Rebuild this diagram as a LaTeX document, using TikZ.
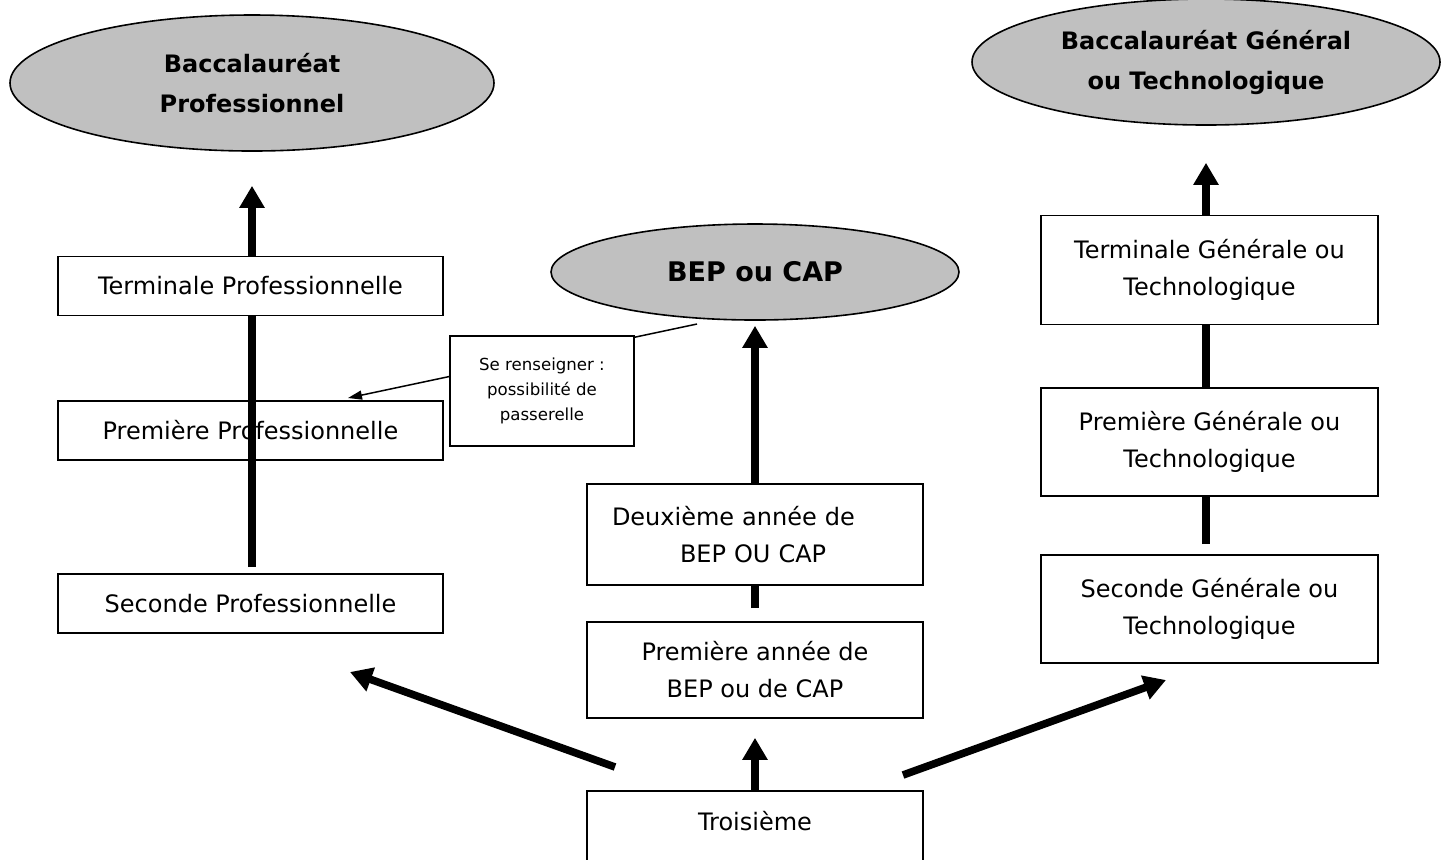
\documentclass[tikz,border=0pt]{standalone}
\usepackage{fontspec}
\setmainfont{DejaVu Sans}
\usetikzlibrary{shapes.geometric,arrows.meta}
\definecolor{argent}{HTML}{C0C0C0}
\begin{document}
\begin{tikzpicture}[x=0.5pt, y=-0.5pt,
	diplome/.style={ellipse, draw, fill=argent, line width=0.8pt, inner sep=0pt, align=center, font=\bfseries\fontsize{12}{20}\selectfont},
	classe/.style={rectangle, draw, fill=white, line width=0.8pt, inner sep=0pt, align=center, font=\fontsize{12}{18.5}\selectfont},
	note/.style={rectangle, draw, fill=white, line width=0.6pt, inner sep=0pt, align=center, font=\fontsize{8.3}{12.5}\selectfont},
	fleche/.style={line width=3.8pt, -{Triangle[length=11pt,width=12pt]}},
	trait/.style={line width=3.8pt}]
	\useasboundingbox (0, 0) rectangle (1446, 859);
	\node[diplome, minimum width=242pt, minimum height=68pt] (bacpro) at (252, 83) {Baccalauréat\\Professionnel};
	\node[diplome, minimum width=204pt, minimum height=48pt, font=\bfseries\fontsize{13.5}{20}\selectfont] (bepcap) at (755, 272) {BEP ou CAP};
	\node[diplome, minimum width=234pt, minimum height=63pt] (bacgen) at (1206, 62) {Baccalauréat Général\\ou Technologique};

	\node[classe, minimum width=192.5pt, minimum height=29.5pt] (secpro) at (250.5, 603.5) {Seconde Professionnelle};
	\node[classe, minimum width=192.5pt, minimum height=29.5pt] (prempro) at (250.5, 430.5) {Première Professionnelle};
	\draw[fleche, shorten <=3pt, shorten >=17pt] (secpro.north -| bacpro.south) -- (bacpro.south);
	\node[classe, minimum width=192.5pt, minimum height=29.5pt] (termpro) at (250.5, 286) {Terminale Professionnelle};

	\node[classe, anchor=north, minimum width=168pt, text height=20pt, text depth=25pt] (troisieme) at (755, 790) {Troisième};
	\node[classe, minimum width=168pt, minimum height=48pt] (premcap) at (755, 670) {Première année de\\BEP ou de CAP};
	\node[classe, minimum width=168pt, minimum height=50.5pt, text width=143pt, align=left] (deuxcap) at (755, 534.5) {Deuxième année de\\\hspace*{34pt}BEP OU CAP};
	\draw[fleche, shorten >=9.5pt] (troisieme.north) -- (premcap.south);
	\draw[trait, shorten <=6.5pt] (premcap.north) -- (deuxcap.south);
	\draw[fleche, shorten >=2.5pt] (deuxcap.north) -- (bepcap.south);

	\node[classe, minimum width=168.5pt, minimum height=54.5pt] (termgen) at (1209.5, 270) {Terminale Générale ou\\Technologique};
	\node[classe, minimum width=168.5pt, minimum height=54pt] (premgen) at (1209.5, 442) {Première Générale ou\\Technologique};
	\node[classe, minimum width=168.5pt, minimum height=54pt] (secgen) at (1209.5, 609) {Seconde Générale ou\\Technologique};
	\draw[fleche, shorten >=18.5pt] (termgen.north -| bacgen.south) -- (bacgen.south);
	\draw[trait] (premgen.north -| bacgen.south) -- (termgen.south -| bacgen.south);
	\draw[trait, shorten <=5pt] (secgen.north -| bacgen.south) -- (premgen.south -| bacgen.south);

	\coordinate (deTroisG) at (615, 767);
	\coordinate (versPro) at (350, 672);
	\coordinate (deTroisD) at (903, 775);
	\coordinate (versGen) at (1166, 680);
	\draw[fleche] (deTroisG) -- (versPro);
	\draw[fleche] (deTroisD) -- (versGen);

	\coordinate (renvoi) at (697, 324);
	\coordinate (passerelle) at (348, 398);
	\draw[line width=0.75pt, -{Triangle[length=7pt,width=4.5pt]}] (renvoi) -- (passerelle);
	\node[note, minimum width=92pt, minimum height=55pt] (info) at (542, 391) {Se renseigner :\\possibilité de\\passerelle};
\end{tikzpicture}
\end{document}
